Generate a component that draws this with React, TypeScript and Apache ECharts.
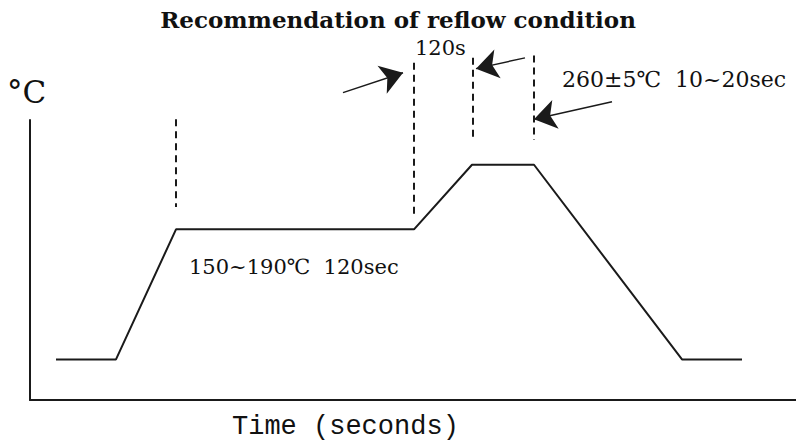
import React, { useEffect, useRef } from "react";
import * as echarts from "echarts";

// Reflow profile (time in s, temperature in °C) — schematic values
const profileTime = [13, 43, 73, 192, 221, 252, 326, 356];
const profileTemp = [25, 25, 182, 182, 260, 260, 25, 25];

// dashed marker lines: [time, topTemp, bottomTemp]
const markerTime = [73, 192, 221.5, 252];
const markerTop = [315, 383, 389, 392];
const markerBottom = [209, 199, 290, 290];

// arrows: tail and tip
const arrowTail = [[156.5, 347], [247.5, 389], [291, 336]];
const arrowTip = [[186.5, 371], [223, 376], [252, 315]];

const titleText = "Recommendation of reflow condition";
const xName = "Time (seconds)";
const yName = "°C";
const soakLabel = "150~190℃  120sec";
const peakLabel = "260±5℃  10~20sec";
const gapLabel = "120s";

export default function App() {
  const ref = useRef<HTMLDivElement>(null);
  useEffect(() => {
    if (!ref.current) return;
    const chart = echarts.init(ref.current, null, { renderer: "svg" });
    const ink = "#1a1a1a";
    const serif = "DejaVu Serif";
    const markerSeries = markerTime.map((t, i) => ({
      type: "line",
      data: [[t, markerTop[i]], [t, markerBottom[i]]],
      showSymbol: false,
      clip: false,
      silent: true,
      lineStyle: { color: ink, width: 2, type: [7, 5] },
    }));
    chart.setOption({
      animation: false,
      backgroundColor: "#ffffff",
      title: [
        {
          text: titleText,
          left: "center",
          top: 8,
          padding: 0,
          textStyle: { fontFamily: serif, fontWeight: "bold", fontSize: 23, color: "#111" },
        },
        {
          text: xName,
          left: 232,
          top: 413,
          padding: 0,
          textStyle: { fontFamily: "Liberation Mono", fontWeight: "normal", fontSize: 27, color: "#111" },
        },
        {
          text: yName,
          left: 7,
          top: 76,
          padding: 0,
          textStyle: { fontFamily: serif, fontWeight: "normal", fontSize: 31, color: "#111" },
        },
      ],
      grid: { left: 30, right: 0, top: 120, bottom: 45 },
      xAxis: {
        type: "value",
        min: 0,
        max: 383,
        axisLine: { show: true, onZero: false, lineStyle: { color: ink, width: 2 } },
        axisTick: { show: false },
        axisLabel: { show: false },
        splitLine: { show: false },
      },
      yAxis: {
        type: "value",
        min: -24,
        max: 314,
        axisLine: { show: true, onZero: false, lineStyle: { color: ink, width: 2 } },
        axisTick: { show: false },
        axisLabel: { show: false },
        splitLine: { show: false },
      },
      graphic: [
        { type: "text", left: 415, top: 37, style: { text: gapLabel, font: `21px '${serif}'`, fill: "#111" } },
        { type: "text", left: 562, top: 68, style: { text: peakLabel, font: `22px '${serif}'`, fill: "#111" } },
        { type: "text", left: 189, top: 256, style: { text: soakLabel, font: `21px '${serif}'`, fill: "#111" } },
      ],
      series: [
        {
          type: "line",
          data: profileTime.map((t, i) => [t, profileTemp[i]]),
          showSymbol: false,
          silent: true,
          lineStyle: { color: ink, width: 2 },
        },
        ...markerSeries,
        {
          type: "lines",
          coordinateSystem: "cartesian2d",
          clip: false,
          silent: true,
          symbol: ["none", "arrow"],
          symbolSize: [16, 22],
          lineStyle: { color: ink, width: 1.5, type: "solid", opacity: 1 },
          data: arrowTail.map((p, i) => ({ coords: [p, arrowTip[i]] })),
        },
      ],
    });
    return () => chart.dispose();
  }, []);
  return (
    <div
      ref={ref}
      style={{ position: "fixed", left: 0, top: 0, width: 796, height: 445 }}
    />
  );
}
